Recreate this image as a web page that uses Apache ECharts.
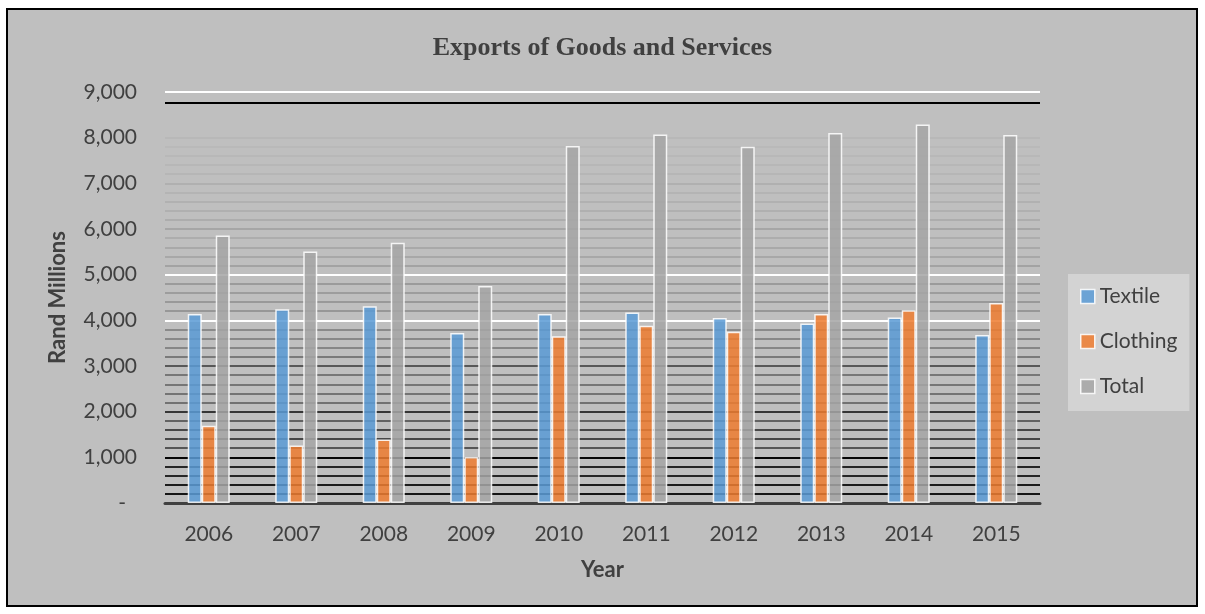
<!DOCTYPE html>
<html>
<head>
<meta charset="utf-8">
<script src="https://cdn.jsdelivr.net/npm/echarts@6/dist/echarts.min.js"></script>
<style>
  html, body { margin: 0; padding: 0; background: #ffffff; }
  #chart { width: 1205px; height: 614px; }
</style>
</head>
<body>
<div id="chart"></div>
<script>
// Exports of goods and services, Rand millions
const years = ['2006', '2007', '2008', '2009', '2010', '2011', '2012', '2013', '2014', '2015'];
const textile = [4140, 4240, 4310, 3720, 4140, 4170, 4050, 3930, 4060, 3680];
const clothing = [1690, 1260, 1390, 1010, 3650, 3880, 3750, 4140, 4220, 4380];
const total = [5860, 5510, 5700, 4750, 7820, 8070, 7800, 8100, 8290, 8060];
const yTicks = [0, 1000, 2000, 3000, 4000, 5000, 6000, 7000, 8000, 9000];

// Horizontal rule shading across the plot area (value -> stroke colour)
const ruleShades = [
  [200, '#151515'], [400, '#1c1c1c'], [600, '#262626'], [800, '#262626'],
  [1000, '#050505'], [1200, '#555555'], [1400, '#474747'], [1600, '#474747'],
  [1800, '#626262'], [2000, '#363636'], [2200, '#727272'], [2400, '#747474'],
  [2600, '#767676'], [2800, '#777777'], [3000, '#585858'], [3200, '#7a7a7a'],
  [3400, '#868686'], [3600, '#888888'], [3800, '#8a8a8a'], [4000, '#ffffff'],
  [4200, '#979797'], [4400, '#999999'], [4600, '#9d9d9d'], [4800, '#9b9b9b'],
  [5000, '#ffffff'], [5200, '#a3a3a3'], [5400, '#a8a8a8'], [5600, '#a9a9a9'],
  [5800, '#adadad'], [6000, '#a6a6a6'], [6200, '#adadad'], [6400, '#b0b0b0'],
  [6600, '#b1b1b1'], [6800, '#b4b4b4'], [7000, '#b0b0b0'], [7200, '#b6b6b6'],
  [7400, '#b7b7b7'], [7600, '#b8b8b8'], [7800, '#b9b9b9'], [8000, '#b8b8b8'],
  [8770, '#000000'], [9000, '#ffffff']
];

const chart = echarts.init(document.getElementById('chart'), null, { renderer: 'canvas' });

const labelFont = 'Lato, "Open Sans", sans-serif';
const textColor = '#404040';

function barSeries(name, values, color) {
  return {
    name: name,
    type: 'bar',
    data: values,
    barWidth: 14,
    barGap: '0%',
    z: 6,
    itemStyle: {
      color: color,
      opacity: 0.86,
      borderColor: '#ffffff',
      borderWidth: 1.5
    }
  };
}

const option = {
  backgroundColor: '#ffffff',
  animation: false,
  color: ['#5b9bd5', '#ed7d31', '#a5a5a5'],
  graphic: [{
    type: 'rect',
    z: -10,
    shape: { x: 7, y: 9, width: 1190, height: 597 },
    style: { fill: '#bfbfbf', stroke: '#000000', lineWidth: 2 }
  }],
  title: {
    text: 'Exports of Goods and Services',
    left: 'center',
    top: 30,
    textStyle: {
      fontFamily: '"Liberation Serif", "Times New Roman", serif',
      fontWeight: 'bold',
      fontSize: 26,
      color: textColor
    }
  },
  legend: {
    orient: 'vertical',
    left: 1068,
    top: 274,
    padding: [12, 12, 14, 12],
    backgroundColor: '#d3d3d3',
    itemWidth: 14,
    itemHeight: 14,
    itemGap: 24,
    icon: 'rect',
    textStyle: { fontFamily: labelFont, fontSize: 21, color: textColor, lineHeight: 21 },
    itemStyle: { borderColor: '#ffffff', borderWidth: 1.5 },
    data: ['Textile', 'Clothing', 'Total']
  },
  grid: { left: 165, right: 165, top: 92, bottom: 111, containLabel: false },
  xAxis: {
    type: 'category',
    data: years,
    name: 'Year',
    nameLocation: 'middle',
    nameGap: 56,
    nameTextStyle: { fontFamily: labelFont, fontWeight: 'bold', fontSize: 22, color: textColor },
    axisLine: { show: true, lineStyle: { color: '#404040', width: 3 } },
    axisTick: { show: false },
    axisLabel: { fontFamily: labelFont, fontSize: 21, color: textColor, margin: 21 }
  },
  yAxis: {
    type: 'value',
    min: yTicks[0],
    max: yTicks[yTicks.length - 1],
    interval: 1000,
    name: 'Rand Millions',
    nameLocation: 'middle',
    nameGap: 96,
    nameTextStyle: { fontFamily: labelFont, fontWeight: 'bold', fontSize: 22, color: textColor },
    axisLine: { show: false },
    axisTick: { show: false },
    splitLine: { show: false },
    axisLabel: {
      margin: 28,
      fontFamily: labelFont,
      fontSize: 21,
      color: textColor,
      formatter: function (v) {
        if (v === 0) return '{dash|-}';
        return v.toLocaleString('en-US');
      },
      rich: {
        dash: { fontFamily: labelFont, fontSize: 21, color: textColor, padding: [0, 11, 0, 0] }
      }
    }
  },
  series: [
    {
      name: 'rules',
      type: 'line',
      data: [],
      silent: true,
      z: 1,
      markLine: {
        silent: true,
        z: 1,
        symbol: ['none', 'none'],
        label: { show: false },
        animation: false,
        data: ruleShades.map(function (r) {
          return { yAxis: r[0], lineStyle: { color: r[1], width: 2, type: 'solid' } };
        })
      }
    },
    barSeries('Textile', textile, '#5b9bd5'),
    barSeries('Clothing', clothing, '#ed7d31'),
    barSeries('Total', total, '#a5a5a5')
  ]
};

chart.setOption(option);
</script>
</body>
</html>
